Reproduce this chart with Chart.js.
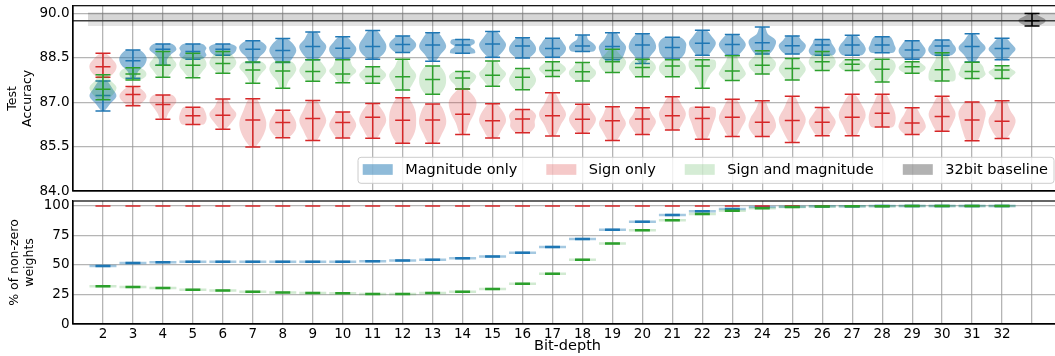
<!DOCTYPE html>
<html><head><meta charset="utf-8">
<script src="https://cdn.jsdelivr.net/npm/chart.js@4.4.1/dist/chart.umd.min.js"></script>
<style>
html,body{margin:0;padding:0;background:#fff;overflow:hidden;width:1055px;height:356px;}
#top{position:absolute;left:0;top:0;}
#bot{position:absolute;left:0;top:196px;}
</style></head><body>
<canvas id="top" width="1062" height="196"></canvas>
<canvas id="bot" width="1062" height="160"></canvas>
<script>
// ---------------- data ----------------
const bitDepths = [2,3,4,5,6,7,8,9,10,11,12,13,14,15,16,17,18,19,20,21,22,23,24,25,26,27,28,29,30,31,32];
const baselinePos = 33;
const gridPositions = [2,3,4,5,6,7,8,9,10,11,12,13,14,15,16,17,18,19,20,21,22,23,24,25,26,27,28,29,30,31,32,33];
const accTicks = [84.0, 85.5, 87.0, 88.5, 90.0];
const nzTicks = [0, 25, 50, 75, 100];
const legendLabels = ['Magnitude only', 'Sign only', 'Sign and magnitude', '32bit baseline'];

// Magnitude only (test accuracy)
const magMax = [87.72,88.76,88.97,88.97,88.97,89.08,89.15,89.37,89.21,89.42,89.24,89.35,89.12,89.39,89.18,89.16,89.27,89.35,89.31,89.19,89.43,89.29,89.54,89.24,89.12,89.26,89.21,89.08,89.10,89.31,89.16];
const magMed = [87.23,88.40,88.79,88.71,88.79,88.79,88.75,88.88,88.82,88.88,88.95,88.93,88.93,88.97,88.90,88.81,88.90,88.88,88.93,88.85,88.99,88.95,89.01,88.91,88.93,88.93,88.93,88.76,88.90,88.88,88.81];
const magMin = [86.70,87.81,88.25,88.45,88.59,88.34,88.34,88.43,88.45,88.45,88.68,88.38,88.65,88.52,88.49,88.52,88.71,88.43,88.31,88.45,88.59,88.59,88.63,88.63,88.59,88.59,88.67,88.45,88.59,88.36,88.43];
// Sign only
const sgnMax = [88.65,87.53,87.24,86.83,87.11,87.12,86.73,87.06,86.67,86.96,87.15,86.94,87.45,86.95,86.75,87.32,86.93,86.85,86.81,87.18,86.83,87.10,87.05,87.20,86.82,87.27,87.27,86.81,87.20,87.01,87.05];
const sgnMed = [88.20,87.26,86.92,86.54,86.56,86.40,86.31,86.45,86.31,86.49,86.39,86.40,86.59,86.37,86.43,86.54,86.42,86.37,86.43,86.54,86.45,86.49,86.32,86.38,86.32,86.49,86.63,86.30,86.52,86.40,86.36];
const sgnMin = [87.84,86.88,86.42,86.25,86.09,85.49,85.80,85.71,85.79,85.78,85.61,85.61,85.91,85.79,85.97,85.86,85.95,85.71,85.91,86.06,85.75,85.84,85.84,85.64,85.87,85.87,86.16,85.91,86.02,85.70,85.77];
// Sign and magnitude
const bothMax = [87.93,88.16,88.71,88.65,88.71,88.36,88.36,88.43,88.43,88.20,88.45,88.22,88.04,88.39,88.14,88.37,88.34,88.79,88.45,88.43,88.43,88.57,88.74,88.48,88.71,88.43,88.45,88.37,88.67,88.35,88.23];
const bothMed = [87.44,87.95,88.25,88.25,88.31,88.09,88.05,88.04,87.95,87.87,87.86,87.77,87.82,87.91,87.84,88.07,88.03,88.37,88.17,88.22,88.22,88.05,88.25,88.14,88.37,88.28,88.11,88.20,88.10,88.04,88.09];
const bothMin = [87.08,87.75,87.84,87.83,87.98,87.64,87.47,87.71,87.66,87.64,87.41,87.27,87.45,87.54,87.42,87.87,87.72,88.00,87.86,87.86,87.47,87.73,87.95,87.75,88.07,88.07,87.68,87.98,87.72,87.80,87.80];

// violin density profiles, bottom -> top (relative half width, 1 = widest)
const magShape = [[0.1,0.55,1,0.7,0.3],[0.15,0.4,0.9,1,0.5],[0.3,0.3,0.6,1,0.7],[0.6,1,0.9,1,0.7],[0.6,0.9,1,1,0.6],[0.2,0.5,0.9,1,0.5],[0.4,0.8,1,0.8,0.3],[0.3,0.8,1,0.6,0.3],[0.4,0.9,1,0.7,0.3],[0.3,0.9,1,0.7,0.3],[0.5,0.9,1,0.8,0.4],[0.2,0.6,1,0.8,0.4],[0.9,0.9,0.6,0.9,0.8],[0.3,0.8,1,0.7,0.3],[0.4,0.9,1,0.8,0.4],[0.5,0.9,1,0.8,0.5],[0.8,1,0.8,0.4,0.3],[0.6,0.9,1,0.6,0.3],[0.2,0.6,1,0.9,0.4],[0.5,0.9,1,1,0.6],[0.4,0.8,1,0.7,0.3],[0.4,0.8,1,0.8,0.4],[0.5,0.9,1,0.4,0.2],[0.5,0.9,1,0.7,0.4],[0.8,1,0.9,0.7,0.6],[0.7,1,0.9,0.6,0.3],[0.8,1,0.9,0.8,0.6],[0.5,0.9,1,0.8,0.5],[0.7,1,1,0.8,0.6],[0.2,0.6,1,0.6,0.2],[0.3,0.7,1,0.7,0.3]];
const sgnShape = [[0.4,0.9,1,0.7,0.2],[0.3,0.8,1,0.8,0.3],[0.2,0.4,0.7,1,0.7],[0.8,1,1,0.9,0.7],[0.2,0.7,1,0.6,0.3],[0.2,0.8,1,0.7,0.3],[0.4,0.9,1,0.8,0.4],[0.3,0.7,1,0.7,0.3],[0.4,0.8,1,0.8,0.4],[0.3,0.7,1,0.8,0.3],[0.4,0.9,1,0.9,0.4],[0.3,0.7,1,0.9,0.5],[0.2,0.5,0.9,1,0.3],[0.3,0.7,1,0.8,0.3],[0.5,0.9,0.9,1,0.6],[0.2,0.6,1,0.6,0.2],[0.3,0.8,1,0.7,0.3],[0.3,0.7,1,0.7,0.4],[0.4,0.8,1,0.7,0.4],[0.4,0.8,1,0.7,0.3],[0.3,0.6,0.8,1,0.9],[0.3,0.7,1,0.7,0.3],[0.5,1,0.9,0.5,0.2],[0.2,0.7,1,0.6,0.2],[0.4,0.8,1,0.7,0.3],[0.3,0.7,1,0.7,0.2],[0.8,1,0.9,0.6,0.3],[0.5,1,0.9,0.6,0.3],[0.4,0.8,1,0.7,0.3],[0.4,0.7,0.9,1,0.5],[0.3,0.8,1,0.6,0.3]];
const bothShape = [[0.3,0.8,1,0.6,0.3],[0.5,0.9,1,0.9,0.5],[0.3,0.7,1,0.7,0.4],[0.3,0.7,1,0.9,0.4],[0.3,0.8,1,0.8,0.4],[0.2,0.4,0.7,1,0.7],[0.2,0.4,0.8,1,0.7],[0.4,0.8,1,0.8,0.4],[0.3,0.6,1,0.7,0.5],[0.4,0.8,1,0.8,0.4],[0.4,0.8,1,0.6,0.3],[0.5,0.9,1,0.9,0.5],[0.4,0.6,0.9,1,0.6],[0.3,0.7,1,0.6,0.3],[0.5,0.9,1,0.8,0.5],[0.4,0.8,1,0.8,0.4],[0.4,0.9,1,0.7,0.4],[0.5,0.9,1,0.6,0.2],[0.5,0.8,1,0.9,0.5],[0.5,0.9,1,0.9,0.5],[0.1,0.3,0.6,1,0.9],[0.5,1,0.8,0.5,0.3],[0.4,0.9,1,0.6,0.3],[0.4,0.8,1,0.8,0.4],[0.5,0.9,1,0.8,0.4],[0.6,0.9,1,0.8,0.6],[0.3,0.6,0.9,1,0.7],[0.5,0.9,1,0.8,0.5],[0.9,1,0.8,0.5,0.4],[0.6,1,0.9,0.8,0.5],[0.5,0.8,1,0.7,0.4]];

// 32-bit baseline
const baseMax = 90.0, baseMed = 89.75, baseMin = 89.57;
const baseShape = [0.3,0.9,1,0.6,0.2];
const bandLow = 89.57, bandMean = 89.75, bandHigh = 90.03;
const bandStart = 1.5;

// % of non-zero weights
const magNZ  = [49.2,51.7,52.3,52.8,52.8,52.8,52.8,52.8,52.8,53.1,53.7,54.5,55.6,57.1,60.4,65.3,72.1,79.9,86.7,92.4,95.5,97.5,99.1,99.4,99.7,99.8,99.9,99.9,100,100,100];
const sgnNZ  = [100,100,100,100,100,100,100,100,100,100,100,100,100,100,100,100,100,100,100,100,100,100,100,100,100,100,100,100,100,100,100];
const bothNZ = [31.9,31.3,30.5,29.1,28.3,27.4,26.6,26.3,26.0,25.4,25.4,26.3,27.4,29.7,34.2,42.6,54.5,68.1,79.4,87.8,93.2,96.0,98.0,99.1,99.5,99.7,99.8,99.9,99.9,100,100];

// ---------------- style ----------------
const C = {
  blue:'#1f77b4', red:'#d62728', green:'#2ca02c',
  blueFill:'rgba(31,119,180,0.5)', redFill:'rgba(214,39,40,0.22)', greenFill:'rgba(44,160,44,0.2)',
  baseFill:'rgba(0,0,0,0.3)'
};
const legendColors = [C.blueFill, 'rgba(214,39,40,0.25)', C.greenFill, 'rgba(0,0,0,0.3)'];
const GRID = 'rgba(150,150,150,0.7)';
const HALF_W = 0.45, BAR_HALF = 0.25;
Chart.defaults.font.family = '"DejaVu Sans", sans-serif';
Chart.defaults.color = '#000';

function violinOutline(p, lo, hi, shape) {
  const n = shape.length - 1;
  const right = shape.map((s, k) => ({x: p + s * HALF_W, y: lo + (hi - lo) * k / n}));
  const left = right.map(pt => ({x: 2 * p - pt.x, y: pt.y})).reverse();
  return [{x: p, y: lo}, ...right, {x: p, y: hi}, ...left, {x: p, y: lo}];
}
function barSegments(pos, mins, meds, maxs) {
  const pts = [];
  pos.forEach((p, i) => {
    [maxs[i], meds[i], mins[i]].forEach(v => pts.push({x: p - BAR_HALF, y: v}, {x: p + BAR_HALF, y: v}, {x: p, y: null}));
    pts.push({x: p, y: mins[i]}, {x: p, y: maxs[i]}, {x: p, y: null});
  });
  return pts;
}
function hSegments(pos, vals, half) {
  const pts = [];
  pos.forEach((p, i) => pts.push({x: p - half, y: vals[i]}, {x: p + half, y: vals[i]}, {x: p, y: null}));
  return pts;
}
function shapeDs(data, color) {
  return {data, fill: 'shape', backgroundColor: color, borderWidth: 0, borderColor: 'rgba(0,0,0,0)', pointRadius: 0, tension: 0.35};
}
function lineDs(data, color, w) {
  return {data, fill: false, borderColor: color, borderWidth: w, pointRadius: 0, tension: 0, spanGaps: false};
}
function withOrder(list) { return list.map((d, i) => Object.assign(d, {order: list.length - i})); }

// ---------------- top chart datasets ----------------
const topSets = [];
const highBand = shapeDs([{x:bandStart,y:bandMean},{x:34,y:bandMean},{x:34,y:bandHigh},{x:bandStart,y:bandHigh},{x:bandStart,y:bandMean}], 'rgba(0,0,0,0.16)');
highBand.tension = 0; topSets.push(highBand);
const lowBand = shapeDs([{x:bandStart,y:bandLow},{x:34,y:bandLow},{x:34,y:bandMean},{x:bandStart,y:bandMean},{x:bandStart,y:bandLow}], 'rgba(0,0,0,0.11)');
lowBand.tension = 0; topSets.push(lowBand);
topSets.push(lineDs([{x:1,y:bandMean},{x:34,y:bandMean}], '#404040', 1.5));
const series = [
  [magMin, magMed, magMax, magShape, C.blueFill, C.blue],
  [sgnMin, sgnMed, sgnMax, sgnShape, C.redFill, C.red],
  [bothMin, bothMed, bothMax, bothShape, C.greenFill, C.green]
];
series.forEach(([mn, md, mx, sh, fillC, lineC]) => {
  bitDepths.forEach((p, i) => topSets.push(shapeDs(violinOutline(p, mn[i], mx[i], sh[i]), fillC)));
  topSets.push(lineDs(barSegments(bitDepths, mn, md, mx), lineC, 1.5));
});
topSets.push(shapeDs(violinOutline(baselinePos, baseMin, baseMax, baseShape), C.baseFill));
topSets.push(lineDs(barSegments([baselinePos], [baseMin], [baseMed], [baseMax]), '#000', 1.5));

// ---------------- bottom chart datasets ----------------
const botSets = [
  lineDs(hSegments(bitDepths, magNZ, HALF_W), 'rgba(31,119,180,0.4)', 2.5),
  lineDs(hSegments(bitDepths, magNZ, BAR_HALF), C.blue, 2.5),
  lineDs(hSegments(bitDepths, sgnNZ, BAR_HALF), C.red, 1.5),
  lineDs(hSegments(bitDepths, bothNZ, HALF_W), 'rgba(44,160,44,0.22)', 2.5),
  lineDs(hSegments(bitDepths, bothNZ, BAR_HALF), C.green, 2.5)
];

// ---------------- plugins ----------------
const framePlugin = {
  id: 'frame',
  afterDatasetsDraw(chart) {
    const {ctx, chartArea: a} = chart;
    ctx.save(); ctx.strokeStyle = '#000'; ctx.lineWidth = 1.2;
    ctx.strokeRect(a.left, a.top, a.right - a.left, a.bottom - a.top);
    ctx.restore();
  }
};
const legendPlugin = {
  id: 'violinLegend',
  afterDraw(chart) {
    const {ctx, chartArea: a} = chart;
    ctx.save();
    ctx.font = '14.5px "DejaVu Sans"';
    const patchW = 30, patchH = 10.7, gapTxt = 12.5, colGap = 29, padL = 4.7, padR = 6, h = 26;
    const widths = legendLabels.map(t => ctx.measureText(t).width);
    const total = padL + padR + widths.reduce((s, w) => s + patchW + gapTxt + w, 0) + colGap * (widths.length - 1);
    const right = a.right - 8, bottom = a.bottom - 7.7, left = right - total, top = bottom - h;
    ctx.beginPath(); ctx.roundRect(left, top, total, h, 3);
    ctx.fillStyle = 'rgba(255,255,255,0.8)'; ctx.fill();
    ctx.strokeStyle = '#cccccc'; ctx.lineWidth = 1; ctx.stroke();
    let x = left + padL; const cy = top + h / 2;
    legendLabels.forEach((t, i) => {
      ctx.fillStyle = legendColors[i];
      ctx.fillRect(x, cy - patchH / 2 - 0.8, patchW, patchH);
      ctx.fillStyle = '#000'; ctx.textBaseline = 'middle'; ctx.textAlign = 'left';
      ctx.fillText(t, x + patchW + gapTxt, cy);
      x += patchW + gapTxt + widths[i] + colGap;
    });
    ctx.restore();
  }
};

function xScale(showLabels) {
  return {
    type: 'linear', min: 1, max: 34,
    afterBuildTicks: s => { s.ticks = gridPositions.map(v => ({value: v})); },
    grid: {color: GRID, lineWidth: 1.3, drawTicks: false},
    border: {display: true, color: '#000', width: 1.2},
    ticks: {display: showLabels, autoSkip: false, maxRotation: 0, padding: 2, font: {size: 13.5}, color: '#000',
      callback: v => bitDepths.includes(v) ? String(v) : ''},
    title: {display: showLabels, text: 'Bit-depth', font: {size: 14.5}, color: '#000', padding: {top: 0, bottom: 1}},
    afterFit: s => { s.height = showLabels ? 32 : 5; s.paddingLeft = 0; s.paddingRight = 0; }
  };
}
function yScale(min, max, ticks, fmt, title, titlePad) {
  return {
    type: 'linear', min, max,
    afterBuildTicks: s => { s.ticks = ticks.map(v => ({value: v})); },
    grid: {color: GRID, lineWidth: 1.3, drawTicks: false},
    border: {display: true, color: '#000', width: 1.2},
    ticks: {padding: 3.5, font: {size: 13.5}, color: '#000', callback: fmt},
    title: {display: true, text: title, font: {size: 12.5}, color: '#000', padding: {top: titlePad, bottom: 0}},
    afterFit: s => { s.width = 73; s.paddingTop = 0; s.paddingBottom = 0; }
  };
}
const common = {
  responsive: false, animation: false, events: [], devicePixelRatio: 1,
  plugins: {legend: {display: false}, tooltip: {enabled: false}}
};

new Chart(document.getElementById('top'), {
  type: 'line',
  data: {datasets: withOrder(topSets)},
  options: Object.assign({}, common, {
    layout: {padding: {top: 5.7, right: 0, left: 0, bottom: 0}},
    scales: {x: xScale(false), y: yScale(84, 90.26, accTicks, v => v.toFixed(1), ['Test', 'Accuracy'], 5)}
  }),
  plugins: [framePlugin, legendPlugin]
});
new Chart(document.getElementById('bot'), {
  type: 'line',
  data: {datasets: withOrder(botSets)},
  options: Object.assign({}, common, {
    layout: {padding: {top: 5, right: 0, left: 0, bottom: 0}},
    scales: {x: xScale(true), y: yScale(0, 104.2, nzTicks, v => String(v), ['% of non-zero', 'weights'], 7)}
  }),
  plugins: [framePlugin]
});
</script></body></html>
